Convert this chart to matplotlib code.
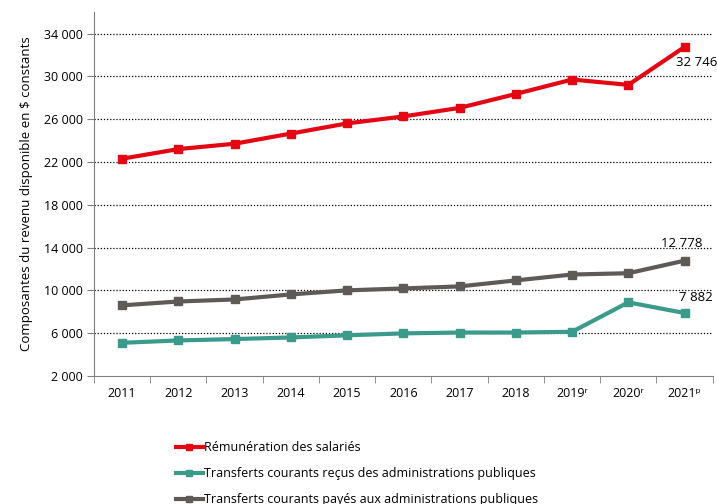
import matplotlib
matplotlib.use('Agg')
import matplotlib.pyplot as plt
import numpy as np

plt.rcParams['font.family'] = ['Open Sans', 'DejaVu Sans']

years = ['2011', '2012', '2013', '2014', '2015', '2016', '2017', '2018',
         '2019ʳ', '2020ʳ', '2021ᵖ']
remuneration = [22300, 23200, 23700, 24650, 25600, 26250, 27050, 28350, 29700, 29200, 32746]
transferts_recus = [5100, 5320, 5450, 5600, 5800, 5980, 6060, 6060, 6130, 8880, 7882]
transferts_payes = [8600, 8960, 9150, 9620, 10000, 10180, 10370, 10930, 11480, 11600, 12778]
labels = ['Rémunération des salariés',
          'Transferts courants reçus des administrations publiques',
          'Transferts courants payés aux administrations publiques']
colors = ['#e30613', '#3a9a8b', '#5f5a55']

fig = plt.figure(figsize=(7.17, 5.04), dpi=100)
ax = fig.add_axes([0.131, 0.254, 0.863, 0.722])

x = np.arange(len(years))
for vals, lab, c in zip([remuneration, transferts_recus, transferts_payes], labels, colors):
    ax.plot(x, vals, color=c, lw=3, marker='s', ms=6, label=lab, solid_joinstyle='round')

ax.set_xlim(-0.5, len(years) - 0.5)
ax.set_ylim(2000, 36000)
ax.set_yticks(range(2000, 36000, 4000))
ax.set_yticklabels(['{:,}'.format(v).replace(',', ' ') for v in range(2000, 36000, 4000)], fontsize=9)
for v in range(6000, 36000, 4000):
    ax.axhline(v, color='black', lw=0.9, ls=(0, (1, 1.5)), zorder=0)

ax.set_xticks(x)
ax.set_xticklabels(years, fontsize=9)
ax.tick_params(axis='x', length=0, pad=8)
ax.set_xticks(np.arange(-0.5, len(years)), minor=True)
ax.tick_params(axis='x', which='minor', length=5, color='#808080', direction='out')
ax.tick_params(axis='y', length=5, color='#808080', pad=3)

for s in ['top', 'right']:
    ax.spines[s].set_visible(False)
for s in ['left', 'bottom']:
    ax.spines[s].set_color('#808080')

ax.set_ylabel('Composantes du revenu disponible en \\$ constants', fontsize=9.5, labelpad=8)

ax.annotate('32 746', (x[-1], remuneration[-1]), xytext=(-6, -14), textcoords='offset points', fontsize=9.5)
ax.annotate('12 778', (x[-1], transferts_payes[-1]), xytext=(-17, 10), textcoords='offset points', fontsize=9.5)
ax.annotate('7 882', (x[-1], transferts_recus[-1]), xytext=(-4, 9), textcoords='offset points', fontsize=9.5)

fig.legend(loc='upper left', bbox_to_anchor=(0.238, 0.134), frameon=False, fontsize=9,
           handlelength=2.2, handletextpad=0.1, labelspacing=1.02, borderaxespad=0,
           markerscale=0.75)

fig.savefig('out.png', dpi=100)
